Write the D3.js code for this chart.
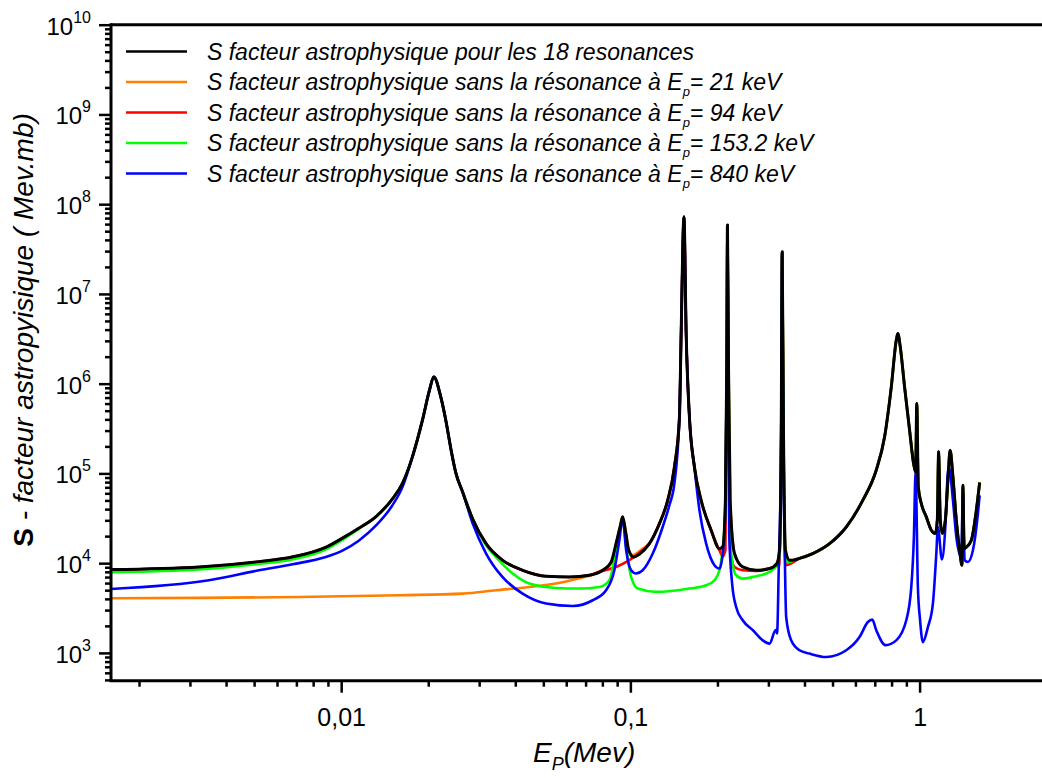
<!DOCTYPE html>
<html>
<head>
<meta charset="utf-8">
<script src="https://cdn.jsdelivr.net/npm/d3@7"></script>
<style>
  body { margin: 0; background: #fff; }
  svg { display: block; }
  text { font-family: Arial, "Liberation Sans", Helvetica, sans-serif; fill: #000; }
</style>
</head>
<body>
<svg id="chart" width="1042" height="778"></svg>
<script>
// ---- Data: astrophysical S factor (MeV.mb) vs proton energy E_p (MeV) ----

// Full calculation with all 18 resonances
const sTotal = [
  [0.0016, 8480], [0.00323, 9070], [0.0052, 10400], [0.00676, 11700], [0.00887, 15100],
  [0.0101, 19000], [0.0115, 24500], [0.0132, 33100], [0.0150, 51500], [0.0163, 77800],
  [0.0176, 150000], [0.0191, 392000], [0.0202, 846000], [0.0209, 1190000], [0.0221, 712000],
  [0.0230, 392000], [0.0240, 181000], [0.0249, 102000], [0.0263, 62000], [0.0285, 31000],
  [0.0317, 16500], [0.0361, 10800], [0.0424, 8330], [0.0511, 7150], [0.0615, 7020],
  [0.0721, 7330], [0.0802, 8330], [0.0858, 10300], [0.0892, 16500], [0.0921, 25300],
  [0.0940, 32800], [0.0961, 23300], [0.0987, 13900], [0.1024, 11700], [0.1074, 12600],
  [0.1163, 16500], [0.1260, 27600], [0.1346, 50300], [0.1420, 118000], [0.1478, 427000],
  [0.1498, 3630000], [0.1532, 72400000], [0.1559, 3630000], [0.1600, 427000], [0.1665, 118000],
  [0.1756, 50300], [0.1902, 23300], [0.2032, 14500], [0.2086, 15200], [0.2131, 50300],
  [0.2154, 1540000], [0.2166, 58500000], [0.2184, 1540000], [0.2213, 50300], [0.2291, 12800],
  [0.2446, 9070], [0.2722, 8330], [0.3027, 8710], [0.3208, 9900], [0.3278, 13900],
  [0.3323, 278000], [0.3349, 29500000], [0.3384, 278000], [0.3438, 13900], [0.3549, 10800],
  [0.3643, 10800], [0.3843, 11300], [0.4272, 12800], [0.4883, 16500], [0.5578, 25300],
  [0.6365, 50300], [0.7083, 109000], [0.7566, 255000], [0.7983, 921000], [0.8305, 3050000],
  [0.841, 3630000], [0.8574, 2570000], [0.8873, 921000], [0.9234, 303000], [0.9533, 129000],
  [0.9687, 104000], [0.978, 602000], [0.9897, 70700], [1.0137, 46200], [1.0549, 32800],
  [1.0978, 23300], [1.1332, 21400], [1.1514, 30100], [1.1635, 174000], [1.1793, 30100],
  [1.1983, 21400], [1.2274, 30100], [1.2531, 84000], [1.2752, 181000], [1.3040, 91400],
  [1.3397, 30100], [1.3753, 13900], [1.4010, 9480], [1.4121, 73900], [1.4250, 14500],
  [1.4509, 15100], [1.5098, 18000], [1.5711, 38900], [1.6130, 79200]
];

// Without the 21 keV resonance (differs from the full curve below ~0.12 MeV)
const sNo21Low = [
  [0.0016, 4060], [0.00323, 4100], [0.00716, 4190], [0.0159, 4390], [0.0263, 4580],
  [0.0343, 4990], [0.0447, 5430], [0.0553, 5920], [0.0666, 6790], [0.0761, 7710],
  [0.0824, 8890], [0.0867, 10300], [0.0892, 16500], [0.0921, 25300], [0.0940, 32800],
  [0.0961, 23300], [0.0987, 13900], [0.1020, 12300], [0.1103, 14500], [0.1163, 16500]
];

// Without the 94 keV resonance (regions where it departs from the full curve)
const sNo94A = [
  [0.0721, 7330], [0.0781, 8020], [0.0892, 9070], [0.0992, 10800], [0.1103, 13900], [0.1163, 16500]
];
const sNo94B = [
  [0.2032, 13900], [0.2086, 11900], [0.2131, 14000], [0.2154, 1200000], [0.2166, 58000000],
  [0.2184, 1200000], [0.2213, 14000], [0.2291, 9070], [0.2446, 8330], [0.2722, 8200]
];
const sNo94C = [
  [0.3027, 8710], [0.3208, 9300], [0.3278, 9500], [0.3323, 250000], [0.3349, 29000000],
  [0.3384, 250000], [0.3438, 9500], [0.3549, 9700], [0.3843, 11300]
];

// Without the 153.2 keV resonance
const sNo153Low = [
  [0.0016, 7920], [0.00323, 8500], [0.0052, 9800], [0.00676, 11000], [0.00887, 14300],
  [0.0101, 18200], [0.0115, 24000], [0.0132, 33100]
];
const sNo153Mid = [
  [0.0285, 31000], [0.0317, 15800], [0.0343, 11700], [0.0392, 7660], [0.0447, 5920],
  [0.0553, 5290], [0.0666, 5210], [0.0781, 5430], [0.0846, 6450], [0.0880, 10800],
  [0.0916, 21400], [0.0940, 31400], [0.0967, 15100], [0.1006, 7020], [0.1060, 5210],
  [0.1228, 4780], [0.1600, 5210], [0.1828, 5670], [0.1953, 6450], [0.2032, 8330],
  [0.2076, 12800], [0.2131, 40000], [0.2154, 1500000], [0.2166, 58000000], [0.2184, 1500000],
  [0.2213, 40000], [0.2231, 12800], [0.2321, 7330], [0.2446, 6730], [0.2722, 7150],
  [0.3027, 7980], [0.3208, 9480], [0.3278, 12000], [0.3323, 270000], [0.3349, 29000000],
  [0.3384, 270000], [0.3438, 12500], [0.3501, 10300], [0.3843, 11300]
];

// Without the 840 keV resonance
const sNo840Low = [
  [0.0016, 5160], [0.00349, 6450], [0.0052, 8330], [0.00679, 9720], [0.00885, 11700],
  [0.0101, 13800], [0.0115, 17800], [0.0132, 26300], [0.0150, 43600], [0.0163, 70800],
  [0.0176, 150000]
];
const sNo840Mid = [
  [0.0263, 62000], [0.0285, 27600], [0.0317, 12800], [0.0361, 7020], [0.0424, 4580],
  [0.0511, 3550], [0.0632, 3330], [0.0741, 3860], [0.0824, 4990], [0.0880, 8330],
  [0.0916, 18000], [0.0940, 31400], [0.0967, 13900], [0.1006, 8330], [0.1046, 7660],
  [0.1103, 8330], [0.1195, 12800], [0.1293, 25300], [0.1364, 44200], [0.1420, 77800],
  [0.1478, 427000]
];
const sNo840High = [
  [0.1600, 427000], [0.1665, 118000], [0.1733, 38900], [0.1828, 16500], [0.1953, 9480],
  [0.2032, 8710], [0.2086, 12800], [0.2131, 40000], [0.2154, 1500000], [0.2166, 58000000],
  [0.2180, 1000000], [0.2196, 21400], [0.2248, 5920], [0.2321, 3250], [0.2446, 2310],
  [0.2650, 1790], [0.2869, 1380], [0.3027, 1270], [0.3180, 1800], [0.3215, 1650],
  [0.3259, 9070], [0.3323, 250000], [0.3349, 29000000], [0.3375, 250000], [0.3410, 21400],
  [0.3457, 2510], [0.3597, 1380], [0.3843, 1070], [0.4163, 982], [0.4755, 900],
  [0.5578, 1070], [0.6199, 1500], [0.6625, 2210], [0.6862, 2350], [0.7083, 1790],
  [0.7627, 1220], [0.8305, 1380], [0.8994, 2310], [0.9360, 5430], [0.9556, 19600],
  [0.9687, 104000], [0.9865, 5430], [1.004, 2310], [1.0266, 1320], [1.0683, 1940],
  [1.1118, 3550], [1.1424, 12800], [1.157, 25300], [1.1944, 11000], [1.2274, 25300],
  [1.2531, 104000], [1.265, 114000], [1.3040, 50300], [1.3397, 19600], [1.394, 11700],
  [1.4121, 62200], [1.431, 10800], [1.469, 10300], [1.529, 13900], [1.591, 35700],
  [1.613, 57000]
];

// Axis tick labels
const xMajorTicks = [0.01, 0.1, 1];
const xTickLabels = ["0,01", "0,1", "1"];
const yExponents = [3, 4, 5, 6, 7, 8, 9, 10];

// Legend entries ("_p" marks a subscript)
const legendLabels = [
  "S facteur astrophysique pour les 18 resonances",
  "S facteur astrophysique sans la résonance à E_p= 21 keV",
  "S facteur astrophysique sans la résonance à E_p= 94 keV",
  "S facteur astrophysique sans la résonance à E_p= 153.2 keV",
  "S facteur astrophysique sans la résonance à E_p= 840 keV"
];
const seriesColors = ["#000000", "#ff8000", "#ff0000", "#00ff00", "#0000ff"];

// ---- Build each curve: the full curve with the pieces that differ replaced ----
function withSegments(base, segments) {
  let pts = base.slice();
  segments.forEach(seg => {
    const lo = seg[0][0], hi = seg[seg.length - 1][0];
    pts = pts.filter(d => d[0] < lo || d[0] > hi).concat(seg);
  });
  return pts.sort((a, b) => a[0] - b[0]);
}

const curves = [
  sTotal,
  withSegments(sTotal, [sNo21Low]),
  withSegments(sTotal, [sNo94A, sNo94B, sNo94C]),
  withSegments(sTotal, [sNo153Low, sNo153Mid]),
  withSegments(sTotal, [sNo840Low, sNo840Mid, sNo840High])
];

// ---- Layout ----
const svg = d3.select("#chart");
const plot = { left: 111, right: 1042, top: 24.7, bottom: 680.7 };

const x = d3.scaleLog().domain([0.0016, 2.65]).range([plot.left, plot.right]);
const y = d3.scaleLog().domain([490, 1e10]).range([plot.bottom, plot.top]);

svg.append("clipPath").attr("id", "plotClip")
  .append("rect")
  .attr("x", plot.left).attr("y", plot.top)
  .attr("width", plot.right - plot.left).attr("height", plot.bottom - plot.top);

// ---- Curves (black drawn last, on top) ----
const line = d3.line()
  .x(d => x(d[0]))
  .y(d => y(d[1]))
  .curve(d3.curveMonotoneX);

const drawOrder = [1, 2, 3, 4, 0];
const curveG = svg.append("g").attr("clip-path", "url(#plotClip)");
drawOrder.forEach(i => {
  curveG.append("path")
    .datum(curves[i])
    .attr("d", line)
    .attr("fill", "none")
    .attr("stroke", seriesColors[i])
    .attr("stroke-width", i === 0 ? 3 : 2.6)
    .attr("stroke-linejoin", "round");
});

// ---- Axes ----
const tickStroke = 2.5;

// X axis: minor ticks (2..9 per decade) and decade ticks
const xMinor = [];
[0.001, 0.01, 0.1].forEach(dec => d3.range(2, 10).forEach(m => {
  const v = m * dec;
  if (v >= x.domain()[0]) xMinor.push(v);
}));

const xAxisMinor = d3.axisBottom(x).tickValues(xMinor).tickSize(6).tickFormat("");
const xAxisMajor = d3.axisBottom(x).tickValues(xMajorTicks).tickSize(12)
  .tickFormat((d, i) => xTickLabels[i]).tickPadding(16);

[xAxisMinor, xAxisMajor].forEach(ax => {
  const g = svg.append("g").attr("transform", `translate(0,${plot.bottom})`).call(ax);
  g.select(".domain").remove();
  g.selectAll(".tick line").attr("stroke", "#000").attr("stroke-width", tickStroke);
  g.selectAll(".tick text")
    .attr("font-size", 25)
    .attr("fill", "#000")
    .attr("font-family", 'Arial, "Liberation Sans", sans-serif');
});

// Y axis: minor ticks and decade ticks
const yMinor = [];
d3.range(2, 10).forEach(e => d3.range(2, 10).forEach(m => {
  const v = m * Math.pow(10, e);
  if (v >= y.domain()[0] && v <= y.domain()[1]) yMinor.push(v);
}));
const yMajor = yExponents.map(e => Math.pow(10, e));

const yAxisMinor = d3.axisLeft(y).tickValues(yMinor).tickSize(6).tickFormat("");
const yAxisMajor = d3.axisLeft(y).tickValues(yMajor).tickSize(12).tickFormat("");

[yAxisMinor, yAxisMajor].forEach(ax => {
  const g = svg.append("g").attr("transform", `translate(${plot.left},0)`).call(ax);
  g.select(".domain").remove();
  g.selectAll(".tick line").attr("stroke", "#000").attr("stroke-width", tickStroke);
});

// Decade labels as 10 with a superscript exponent
const yLabelG = svg.append("g");
yExponents.forEach(e => {
  const t = yLabelG.append("text")
    .attr("x", 91)
    .attr("y", y(Math.pow(10, e)) + 10)
    .attr("text-anchor", "end")
    .attr("font-size", 24);
  t.append("tspan").text("10");
  t.append("tspan").attr("font-size", 16).attr("dy", -12).text(String(e));
});

// Axis lines (left, bottom) and the top frame line
svg.append("path")
  .attr("d", `M${plot.left},${plot.top}V${plot.bottom}H${plot.right}`)
  .attr("fill", "none").attr("stroke", "#000").attr("stroke-width", 3)
  .attr("stroke-linecap", "square");
svg.append("line")
  .attr("x1", plot.left).attr("x2", plot.right)
  .attr("y1", plot.top).attr("y2", plot.top)
  .attr("stroke", "#000").attr("stroke-width", 3);

// ---- Axis titles ----
const xTitle = svg.append("text")
  .attr("x", 533).attr("y", 762)
  .attr("font-size", 28).attr("font-style", "italic");
xTitle.append("tspan").text("E");
xTitle.append("tspan").attr("font-size", 18).attr("dy", 8).text("P");
xTitle.append("tspan").attr("dy", -8).text("(Mev)");

const yTitle = svg.append("text")
  .attr("transform", "translate(33,330) rotate(-90)")
  .attr("text-anchor", "middle")
  .attr("font-size", 28).attr("font-style", "italic");
yTitle.append("tspan").attr("font-weight", "bold").attr("font-style", "normal").text("S");
yTitle.append("tspan").text(" - facteur astropyisique ( Mev.mb)");

// ---- Legend ----
const legendG = svg.append("g");
const legendY0 = 51.5, legendStep = 30.5;
legendLabels.forEach((label, i) => {
  const ly = legendY0 + i * legendStep;
  legendG.append("line")
    .attr("x1", 126).attr("x2", 187)
    .attr("y1", ly).attr("y2", ly)
    .attr("stroke", seriesColors[i]).attr("stroke-width", 2.6);
  const t = legendG.append("text")
    .attr("x", 207).attr("y", ly + 8)
    .attr("font-size", 23).attr("font-style", "italic");
  const parts = label.split("_p");
  t.append("tspan").text(parts[0]);
  if (parts.length > 1) {
    t.append("tspan").attr("font-size", 13).attr("dy", 6).text("p");
    t.append("tspan").attr("dy", -6).text(parts[1]);
  }
});
</script>
</body>
</html>
